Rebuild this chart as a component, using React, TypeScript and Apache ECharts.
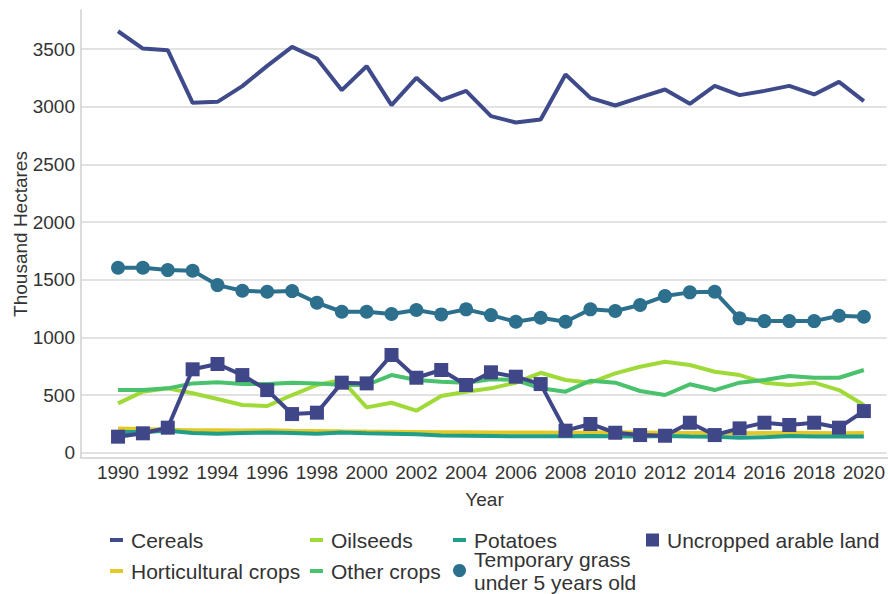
import React, { useEffect, useRef } from 'react';
import * as echarts from 'echarts';

const years = [1990, 1991, 1992, 1993, 1994, 1995, 1996, 1997, 1998, 1999, 2000, 2001, 2002, 2003, 2004, 2005, 2006, 2007, 2008, 2009, 2010, 2011, 2012, 2013, 2014, 2015, 2016, 2017, 2018, 2019, 2020];
const xTickLabels = [1990, 1992, 1994, 1996, 1998, 2000, 2002, 2004, 2006, 2008, 2010, 2012, 2014, 2016, 2018, 2020];

const cereals = [3654, 3504, 3490, 3033, 3042, 3178, 3354, 3518, 3418, 3143, 3351, 3013, 3250, 3057, 3137, 2918, 2863, 2889, 3279, 3076, 3010, 3080, 3149, 3025, 3180, 3100, 3137, 3180, 3106, 3215, 3048];
const horticultural = [210, 205, 200, 195, 195, 192, 195, 190, 188, 185, 183, 182, 180, 178, 178, 175, 175, 175, 173, 175, 178, 175, 172, 170, 170, 168, 170, 172, 170, 168, 170];
const oilseeds = [428, 529, 558, 515, 465, 414, 405, 500, 587, 630, 393, 433, 364, 491, 529, 558, 607, 693, 630, 607, 688, 745, 789, 760, 702, 673, 607, 587, 607, 543, 413];
const otherCrops = [543, 543, 558, 601, 610, 595, 595, 607, 601, 587, 587, 673, 630, 615, 607, 636, 630, 558, 529, 624, 607, 535, 500, 593, 543, 607, 630, 665, 650, 650, 717];
const potatoes = [180, 180, 190, 170, 165, 170, 175, 170, 165, 175, 168, 165, 160, 150, 148, 145, 142, 142, 143, 145, 142, 140, 145, 140, 138, 130, 135, 145, 140, 140, 140];
const temporaryGrass = [1603, 1603, 1583, 1577, 1453, 1404, 1395, 1401, 1300, 1222, 1222, 1202, 1237, 1199, 1243, 1193, 1135, 1170, 1135, 1243, 1228, 1280, 1358, 1390, 1395, 1165, 1141, 1141, 1141, 1187, 1179];
const uncropped = [139, 168, 217, 723, 769, 673, 543, 335, 347, 607, 601, 847, 650, 717, 587, 697, 659, 595, 191, 249, 173, 153, 147, 260, 153, 211, 260, 240, 260, 217, 361];

const GRASS_NAME = 'Temporary grass under 5 years old';

export default function App() {
  const ref = useRef<HTMLDivElement>(null);

  useEffect(() => {
    const chart = echarts.init(ref.current as HTMLDivElement, null, { renderer: 'svg' });
    const font = '"Liberation Sans", Arial, sans-serif';
    const txt = '#333333';
    const pair = (vals: number[]) => years.map((y, i) => [y, vals[i]]);

    const defs = [
      { name: 'Cereals', data: cereals, color: '#3f4a8a', symbol: 'none', width: 4 },
      { name: 'Horticultural crops', data: horticultural, color: '#e3c928', symbol: 'none', width: 4 },
      { name: 'Oilseeds', data: oilseeds, color: '#a0da39', symbol: 'none', width: 4 },
      { name: 'Other crops', data: otherCrops, color: '#4ac16d', symbol: 'none', width: 4 },
      { name: 'Potatoes', data: potatoes, color: '#1f9e89', symbol: 'none', width: 4 },
      { name: GRASS_NAME, data: temporaryGrass, color: '#2d708e', symbol: 'circle', width: 4 },
      { name: 'Uncropped arable land', data: uncropped, color: '#3f4788', symbol: 'rect', width: 4 },
    ];

    const series = defs.map((d) => ({
      type: 'line',
      name: d.name,
      xAxisIndex: 0,
      yAxisIndex: 0,
      data: pair(d.data),
      clip: false,
      symbol: d.symbol,
      showSymbol: d.symbol !== 'none',
      symbolSize: 14,
      color: d.color,
      itemStyle: { color: d.color },
      lineStyle: { color: d.color, width: d.width },
      emphasis: { disabled: true },
    }));

    const legendText = { fontSize: 21, color: txt, fontFamily: font, padding: [0, 0, 0, 3] };
    const legendItems = [
      { name: 'Cereals', icon: 'rect', left: 110, top: 529.5, w: 13, h: 4 },
      { name: 'Oilseeds', icon: 'rect', left: 310, top: 529.5, w: 13, h: 4 },
      { name: 'Potatoes', icon: 'rect', left: 453, top: 529.5, w: 13, h: 4 },
      { name: 'Uncropped arable land', icon: 'rect', left: 646, top: 529.5, w: 13, h: 13 },
      { name: 'Horticultural crops', icon: 'rect', left: 110, top: 560.5, w: 13, h: 4 },
      { name: 'Other crops', icon: 'rect', left: 310, top: 560.5, w: 13, h: 4 },
      { name: GRASS_NAME, icon: 'circle', left: 453, top: 547.5, w: 13, h: 13 },
    ];
    const legend = legendItems.map((l) => ({
      data: [{ name: l.name, icon: l.icon }],
      left: l.left,
      top: l.top,
      itemWidth: l.w,
      itemHeight: l.h,
      padding: 0,
      selectedMode: false,
      textStyle: l.name === GRASS_NAME ? { ...legendText, lineHeight: 23 } : legendText,
      formatter: (n: string) => (n === GRASS_NAME ? 'Temporary grass\nunder 5 years old' : n),
    }));

    chart.setOption({
      animation: false,
      backgroundColor: '#ffffff',
      legend,
      grid: [
        { left: 81, right: 0, top: 49, bottom: 141.3 },
        { left: 81, right: 0, top: 10, bottom: 136 },
      ],
      xAxis: [
        {
          type: 'value',
          gridIndex: 0,
          min: 1988.51,
          max: 2020.92,
          axisLine: { show: false },
          axisTick: { show: false },
          splitLine: { show: false },
          axisLabel: {
            customValues: xTickLabels,
            fontSize: 19,
            color: txt,
            fontFamily: font,
            margin: 10,
            formatter: (v: number) => String(v),
          },
        },
        {
          type: 'value',
          gridIndex: 1,
          min: 0,
          max: 1,
          axisLine: { show: true, lineStyle: { color: '#cfcfcf', width: 1.5 } },
          axisTick: { show: false },
          axisLabel: { show: false },
          splitLine: { show: false },
          name: 'Year',
          nameLocation: 'middle',
          nameGap: 32,
          nameTextStyle: { fontSize: 19, color: txt, fontFamily: font },
        },
      ],
      yAxis: [
        {
          type: 'value',
          gridIndex: 0,
          min: 0,
          max: 3500,
          interval: 500,
          axisLine: { show: false },
          axisTick: { show: false },
          splitLine: { show: true, lineStyle: { color: '#d9d9d9', width: 1.5 } },
          axisLabel: {
            fontSize: 19,
            color: txt,
            fontFamily: font,
            margin: 6,
            formatter: (v: number) => String(v),
          },
        },
        {
          type: 'value',
          gridIndex: 1,
          min: 0,
          max: 1,
          axisLine: { show: true, lineStyle: { color: '#cfcfcf', width: 1.5 } },
          axisTick: { show: false },
          axisLabel: { show: false },
          splitLine: { show: false },
          name: 'Thousand Hectares',
          nameLocation: 'middle',
          nameGap: 51,
          nameTextStyle: { fontSize: 19, color: txt, fontFamily: font },
        },
      ],
      series,
    });

    return () => {
      chart.dispose();
    };
  }, []);

  return (
    <div
      ref={ref}
      style={{ position: 'fixed', left: 0, top: 0, width: 888, height: 594, background: '#fff' }}
    />
  );
}
